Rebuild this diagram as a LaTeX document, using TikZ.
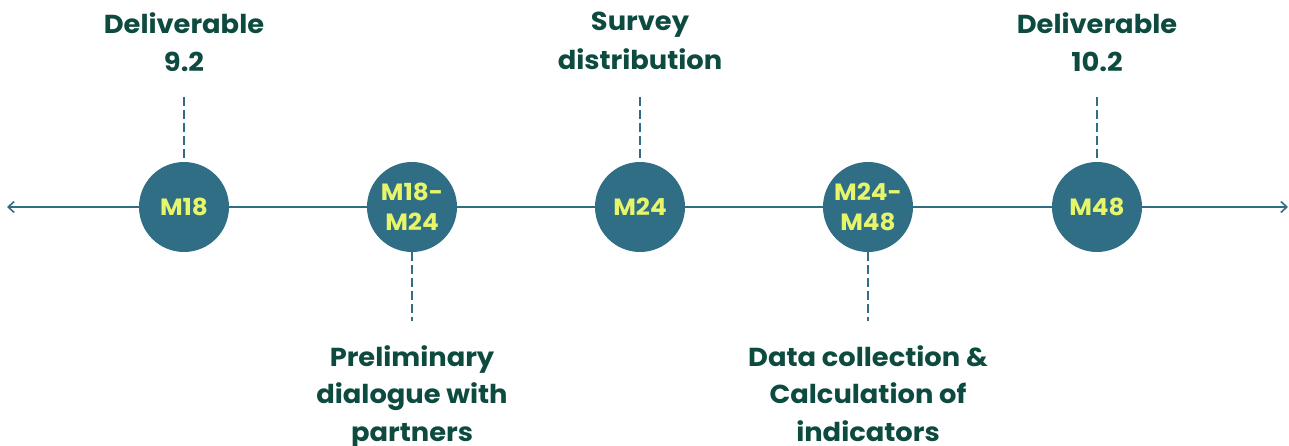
\documentclass[tikz,border=0pt]{standalone}
\usepackage{fontspec}
\setmainfont{Poppins}
\newfontfamily\widefont[FakeStretch=1.05]{Poppins}
\usetikzlibrary{arrows.meta}
\definecolor{milestone}{HTML}{2F6E85}
\definecolor{mtext}{HTML}{E6F56A}
\definecolor{labelgreen}{HTML}{0D4A40}
\tikzset{
  stone/.style={circle, fill=milestone, minimum size=90pt, inner sep=0pt,
    text=mtext, font=\widefont\fontsize{23.5}{30}\selectfont\bfseries, align=center},
  caption/.style={text=labelgreen, font=\widefont\fontsize{26}{38.5}\selectfont\bfseries, align=center, inner sep=0pt},
  lowcaption/.style={caption, font=\widefont\fontsize{26}{37.5}\selectfont\bfseries},
  leader/.style={draw=milestone, line width=1.6pt, dash pattern=on 9pt off 4pt},
  axis/.style={draw=milestone, line width=1.6pt}
}
\begin{document}
\begin{tikzpicture}[x=1pt, y=-1pt]
\useasboundingbox (0,0) rectangle (1289,446);
% timeline axis
\coordinate (west) at (7,207);
\coordinate (east) at (1288,207);
\draw[axis, {Straight Barb[length=6pt,width=11pt]}-{Straight Barb[length=6pt,width=11pt]}] (west) -- (east);
% milestones
\node[stone] (m1) at (184,207) {M18};
\node[stone] (m2) at (412,207) {M18-\\M24};
\node[stone] (m3) at (640,207) {M24};
\node[stone] (m4) at (868,207) {M24-\\M48};
\node[stone] (m5) at (1097,207) {M48};
% captions above
\node[caption, anchor=north] (c1) at (184,12) {Deliverable\\9.2};
\node[caption, anchor=north] (c3) at (640,12) {Survey\\distribution};
\node[caption, anchor=north] (c5) at (1097,12) {Deliverable\\10.2};
% captions below
\node[lowcaption, anchor=north] (c2) at (412,345) {Preliminary\\dialogue with\\partners};
\node[lowcaption, anchor=north] (c4) at (868,345) {Data collection \&\\Calculation of\\indicators};
% leaders
\coordinate (t1) at (184,97);
\coordinate (t3) at (640,97);
\coordinate (t5) at (1097,97);
\coordinate (b2) at (412,321);
\coordinate (b4) at (868,321);
\draw[leader] (t1) -- (m1.north);
\draw[leader] (t3) -- (m3.north);
\draw[leader] (t5) -- (m5.north);
\draw[leader] (m2.south) -- (b2);
\draw[leader] (m4.south) -- (b4);
\end{tikzpicture}
\end{document}
